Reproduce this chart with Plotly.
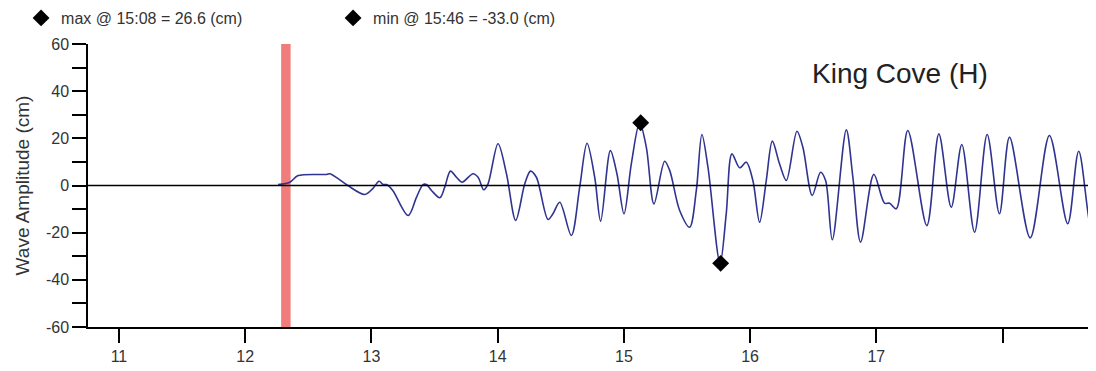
import plotly.graph_objects as go

# wave trace: hours (UTC) and amplitude in cm
hours = [12.261, 12.354, 12.420, 12.645, 12.671, 12.734, 12.813, 12.948, 13.011, 13.061,
         13.093, 13.120, 13.169, 13.291, 13.357, 13.409, 13.436, 13.476, 13.542, 13.581,
         13.626, 13.674, 13.718, 13.805, 13.845, 13.890, 13.924, 14.003, 14.070, 14.143,
         14.215, 14.260, 14.307, 14.399, 14.438, 14.492, 14.584, 14.650, 14.708, 14.769,
         14.816, 14.893, 14.945, 15.001, 15.059, 15.125, 15.178, 15.238, 15.323, 15.363,
         15.442, 15.521, 15.574, 15.618, 15.666, 15.762, 15.811, 15.856, 15.917, 15.970,
         16.022, 16.075, 16.128, 16.176, 16.233, 16.287, 16.371, 16.418, 16.492, 16.558,
         16.598, 16.651, 16.762, 16.814, 16.875, 16.980, 17.065, 17.105, 17.158, 17.249,
         17.400, 17.495, 17.593, 17.677, 17.778, 17.878, 17.975, 18.055, 18.219, 18.371,
         18.516, 18.603, 18.714, 18.736]
amplitude = [0.4, 1.4, 4.2, 4.7, 5.0, 3.0, 0.0, -3.8, -1.3, 1.8,
             0.4, 0.4, -2.1, -12.7, -5.0, 0.4, 0.4, -2.1, -5.2, -0.7,
             6.1, 3.5, 1.4, 5.0, 3.5, -1.8, 0.7, 17.7, 5.0, -14.8,
             0.7, 6.1, 3.5, -14.4, -12.0, -7.1, -21.2, -0.7, 17.9, 3.5,
             -15.1, 14.8, 5.0, -12.0, 9.2, 26.6, 16.2, -7.8, 10.3, 6.4,
             -10.6, -17.7, -2.1, 21.6, 7.8, -33.0, -11.9, 13.4, 7.5, 9.9,
             2.1, -15.6, 2.1, 18.8, 9.2, 2.1, 23.0, 16.2, -4.2, 5.6,
             2.1, -23.0, 23.6, 3.5, -24.0, 4.7, -7.5, -7.5, -9.9, 23.3,
             -17.0, 21.9, -9.2, 17.4, -19.8, 21.6, -12.0, 20.5, -22.2, 21.2,
             -16.2, 14.5, -21.9, -21.9]

max_time, max_val = 15 + 8 / 60, 26.6
min_time, min_val = 15 + 46 / 60, -33.0
arrival = [12.285, 12.36]   # red band (tsunami arrival)

x_ticks = [11, 12, 13, 14, 15, 16, 17, 18]
x_labels = ["11", "12", "13", "14", "15", "16", "17", ""]
y_ticks = [-60, -40, -20, 0, 20, 40, 60]
y_labels = ["-60", "-40", "-20", "0", "20", "40", "60"]

fig = go.Figure()

fig.add_shape(type="rect", xref="x", yref="paper",
              x0=arrival[0], x1=arrival[1], y0=0, y1=1,
              fillcolor="#f07c7c", line=dict(width=0), layer="below")
fig.add_hline(y=0, line=dict(color="black", width=1.5))

fig.add_trace(go.Scatter(
    x=hours, y=amplitude, mode="lines", showlegend=False,
    line=dict(color="#2f3490", width=1.6, shape="spline", smoothing=0.9)
))
fig.add_trace(go.Scatter(
    x=[max_time], y=[max_val], mode="markers",
    name=f"max @ 15:08 = {max_val} (cm)",
    marker=dict(symbol="diamond", color="black", size=13)
))
fig.add_trace(go.Scatter(
    x=[min_time], y=[min_val], mode="markers",
    name=f"min @ 15:46 = {min_val} (cm)",
    marker=dict(symbol="diamond", color="black", size=13)
))

fig.add_annotation(text="King Cove (H)", showarrow=False,
                   xref="paper", yref="paper", x=0.806, y=0.894,
                   xanchor="center", yanchor="middle",
                   font=dict(size=28, color="#222"))

# page body has an 8px margin, so the figure is shifted 8px right and down
fig.update_layout(
    width=1088, height=363,
    margin=dict(l=80, r=0, t=36, b=44, autoexpand=False),
    plot_bgcolor="white", paper_bgcolor="white",
    font=dict(family="Liberation Sans, Arial, sans-serif", size=16, color="#333"),
    legend=dict(orientation="h", xref="container", yref="container",
                x=0.012, y=1 - 10 / 363, xanchor="left", yanchor="middle",
                entrywidth=267, entrywidthmode="pixels",
                font=dict(size=16, color="#333"), bgcolor="rgba(0,0,0,0)"),
    xaxis=dict(range=[10.755, 18.74], tickvals=x_ticks, ticktext=x_labels,
               showgrid=False, zeroline=False, showline=True,
               linecolor="black", linewidth=1.5, ticks="outside",
               ticklen=14, tickwidth=1.5, tickcolor="black"),
    yaxis=dict(range=[-60, 60], tickvals=y_ticks, ticktext=y_labels,
               showgrid=False, zeroline=False, showline=True,
               linecolor="black", linewidth=1.5,
               ticks="outside", ticklen=14, tickwidth=1.5, tickcolor="black",
               minor=dict(dtick=10, ticks="outside", ticklen=14,
                          tickwidth=1.5, tickcolor="black"),
               title=dict(text="Wave Amplitude (cm)", standoff=11,
                          font=dict(size=19, color="#333"))),
)

fig.write_html("out.html")
